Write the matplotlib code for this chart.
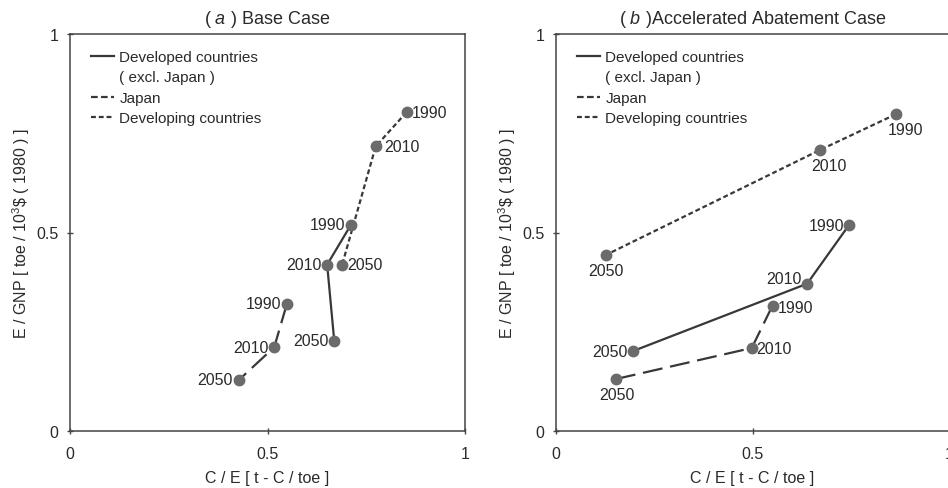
import matplotlib
matplotlib.use('Agg')
import matplotlib.pyplot as plt
from matplotlib.lines import Line2D

plt.rcParams['font.family'] = ['Liberation Sans', 'DejaVu Sans']
plt.rcParams['mathtext.fontset'] = 'custom'
plt.rcParams['mathtext.rm'] = 'Liberation Sans'
plt.rcParams['mathtext.it'] = 'Liberation Sans:italic'

years = ['1990', '2010', '2050']

# (a) base case
base_dev_x = [0.711, 0.651, 0.669]
base_dev_y = [0.519, 0.419, 0.227]
base_jpn_x = [0.549, 0.517, 0.428]
base_jpn_y = [0.320, 0.211, 0.129]
base_ldc_x = [0.852, 0.774, 0.689]
base_ldc_y = [0.803, 0.717, 0.419]

# (b) accelerated abatement case
acc_dev_x = [0.745, 0.639, 0.195]
acc_dev_y = [0.518, 0.371, 0.201]
acc_jpn_x = [0.551, 0.498, 0.153]
acc_jpn_y = [0.316, 0.209, 0.131]
acc_ldc_x = [0.865, 0.672, 0.126]
acc_ldc_y = [0.798, 0.708, 0.443]

# label offsets (pixels) per point
base_offsets = {
  'dev': [(-6, 0, 'right', 'center'), (-6, 0, 'right', 'center'), (-6, 0, 'right', 'center')],
  'jpn': [(-6, 0, 'right', 'center'), (-6, 0, 'right', 'center'), (-6, 0, 'right', 'center')],
  'ldc': [(5, 0, 'left', 'center'), (9, 0, 'left', 'center'), (5, 0, 'left', 'center')],
}
acc_offsets = {
  'dev': [(-5, 0, 'right', 'center'), (-6, 5, 'right', 'center'), (-5, 0, 'right', 'center')],
  'jpn': [(5, -2, 'left', 'center'), (5, 0, 'left', 'center'), (1, -16, 'center', 'center')],
  'ldc': [(10, -15, 'center', 'center'), (9, -16, 'center', 'center'), (0, -15, 'center', 'center')],
}

line_col = '#383838'
mark_col = '#6b6b6b'
txt_col = '#2a2a2a'
styles = {
  'dev': dict(linestyle='-'),
  'jpn': dict(linestyle=(0, (9, 3.5))),
  'ldc': dict(linestyle=(0, (2.2, 1.3))),
}

fig = plt.figure(figsize=(9.48, 4.89), dpi=100)
ax_a = fig.add_axes([70/948, 57/489, 395/948, 397/489])
ax_b = fig.add_axes([556/948, 57/489, 393/948, 397/489])


def draw_panel(ax, series, offsets, title):
  for key, (xs, ys) in series.items():
    ax.plot(xs, ys, color=line_col, lw=1.6, zorder=2, **styles[key])
    ax.plot(xs, ys, 'o', ms=7.5, color=mark_col, mec=mark_col, zorder=3)
    for i, yr in enumerate(years):
      dx, dy, ha, va = offsets[key][i]
      ax.annotate(yr, (xs[i], ys[i]), xytext=(dx, dy), textcoords='offset pixels',
                  ha=ha, va=va, fontsize=11.5, color=txt_col)
  ax.set_xlim(0, 1)
  ax.set_ylim(0, 1)
  ax.set_xticks([0, 0.5, 1])
  ax.set_yticks([0, 0.5, 1])
  ax.set_xticklabels(['0', '0.5', '1'])
  ax.set_yticklabels(['0', '0.5', '1'])
  ax.tick_params(direction='inout', length=5, width=1, colors='#444444',
                 labelcolor=txt_col, labelsize=11.5)
  ax.tick_params(axis='x', pad=8)
  ax.tick_params(axis='y', pad=6)
  for sp in ax.spines.values():
    sp.set_linewidth(1.1)
    sp.set_color('#444444')
  ax.set_xlabel('C / E [ t - C / toe ]', fontsize=11.5, color=txt_col, labelpad=7)
  ax.set_ylabel('E / GNP [ toe / 10$^3$$\\$$ ( 1980 ) ]', fontsize=11.5,
                color=txt_col, labelpad=2.5)
  ax.set_title(title, fontsize=13, color=txt_col, pad=8)
  handles = [
    Line2D([], [], color=line_col, lw=1.6, **styles['dev']),
    Line2D([], [], color='none'),
    Line2D([], [], color=line_col, lw=1.6, linestyle=(0, (3, 1.5))),
    Line2D([], [], color=line_col, lw=1.6, **styles['ldc']),
  ]
  labels = ['Developed countries', '( excl. Japan )', 'Japan', 'Developing countries']
  leg = ax.legend(handles, labels, loc='upper left', frameon=False, fontsize=11,
                  handlelength=1.5, handletextpad=0.35, labelspacing=0.42,
                  borderaxespad=0.0, bbox_to_anchor=(0.038, 0.975))
  for t in leg.get_texts():
    t.set_color(txt_col)


draw_panel(ax_a, {'dev': (base_dev_x, base_dev_y), 'jpn': (base_jpn_x, base_jpn_y),
                  'ldc': (base_ldc_x, base_ldc_y)}, base_offsets,
           '( $\\it{a}$ ) Base Case')
draw_panel(ax_b, {'dev': (acc_dev_x, acc_dev_y), 'jpn': (acc_jpn_x, acc_jpn_y),
                  'ldc': (acc_ldc_x, acc_ldc_y)}, acc_offsets,
           '( $\\it{b}$ )Accelerated Abatement Case')

fig.savefig('out.png', dpi=100)
